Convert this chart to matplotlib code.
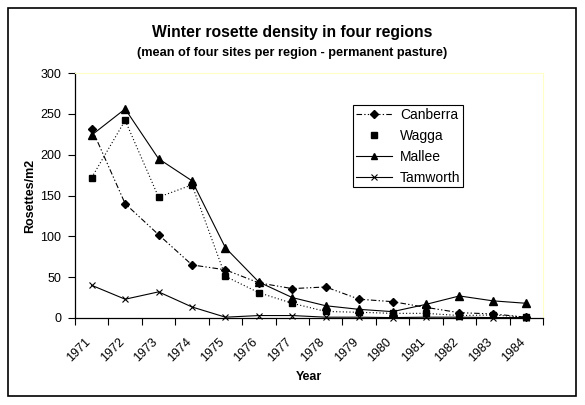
import matplotlib.pyplot as plt
import numpy as np
from matplotlib.lines import Line2D
from matplotlib.patches import Rectangle
from matplotlib.transforms import ScaledTranslation

plt.rcParams['font.family'] = ['Liberation Sans', 'DejaVu Sans']

leta = [str(y) for y in range(1971, 1985)]
canberra = [232, 140, 102, 65, 59, 43, 36, 38, 23, 20, 13, 6.5, 5, 1]
wagga = [172, 242, 148, 163, 51, 31, 18, 8, 7, 5.7, 5.7, 3, 3.7, 1]
mallee = [224, 256, 195, 168, 86, 44, 25, 15, 10.6, 7.8, 16.7, 27, 21, 18]
tamworth = [40, 23, 32, 13.5, 1, 3, 3, 1, 1, 0.5, 1, 1, 0.5, 0.5]

X = np.arange(len(leta))

fig = plt.figure(figsize=(5.85, 4.05), dpi=100)
ax = fig.add_axes([75/585, 1 - 318/405, 468/585, 245/405])

crta_pika = (0, (5, 2, 1.2, 2, 1.2, 2))
ax.plot(X, canberra, color='black', lw=0.8, ls=crta_pika, marker='D', ms=4.5, clip_on=False)
ax.plot(X, wagga, color='black', lw=0.8, ls=(0, (1, 2)), marker='s', ms=5, clip_on=False)
ax.plot(X, mallee, color='black', lw=0.8, ls='-', marker='^', ms=5.5, clip_on=False)
ax.plot(X, tamworth, color='black', lw=0.8, ls='-', marker='x', ms=4.5, mew=0.8, clip_on=False)

ax.set_xlim(-0.5, len(leta) - 0.5)
ax.set_ylim(0, 300)
ax.set_yticks(range(0, 301, 50))
ax.tick_params(axis='y', direction='out', length=5, width=0.8, pad=5, labelsize=9)

ax.set_xticks(X)
ax.set_xticklabels(leta, rotation=45, ha='right', rotation_mode='anchor', fontsize=9)
ax.tick_params(axis='x', length=0, pad=13)
premik = ScaledTranslation(-7/100, 0, fig.dpi_scale_trans)
for lbl in ax.get_xticklabels():
    lbl.set_transform(lbl.get_transform() + premik)
ax.set_xticks(np.arange(-0.5, len(leta)), minor=True)
ax.tick_params(axis='x', which='minor', direction='out', length=5, width=0.8)

for s in ['top', 'right']:
    ax.spines[s].set_color('#ffffc8')
    ax.spines[s].set_linewidth(0.8)
for s in ['left', 'bottom']:
    ax.spines[s].set_linewidth(0.9)

ax.set_xlabel('Year', fontweight='bold', fontsize=9, labelpad=5)
ax.set_ylabel('Rosettes/m2', fontweight='bold', fontsize=9, labelpad=3)

fig.text(0.5, 1 - 33/405, 'Winter rosette density in four regions',
         ha='center', va='center', fontweight='bold', fontsize=11.3)
fig.text(0.5, 1 - 53/405, '(mean of four sites per region - permanent pasture)',
         ha='center', va='center', fontweight='bold', fontsize=9.2)

rocke = [
    Line2D([], [], color='black', lw=0.8, ls=crta_pika, marker='D', ms=4),
    Line2D([], [], color='black', ls='none', marker='s', ms=4.5),
    Line2D([], [], color='black', lw=0.8, ls='-', marker='^', ms=4.5),
    Line2D([], [], color='black', lw=0.8, ls='-', marker='x', ms=4, mew=0.8),
]
leg = ax.legend(rocke, ['Canberra', 'Wagga', 'Mallee', 'Tamworth'],
                loc='upper left', bbox_to_anchor=(0.594, 0.869), borderaxespad=0,
                fontsize=10, frameon=True, fancybox=False, edgecolor='black', framealpha=1,
                handlelength=2.6, handletextpad=0.6, borderpad=0.2, labelspacing=0.5)
leg.get_frame().set_linewidth(0.8)

fig.patches.append(Rectangle((8/585, 1 - 396/405), 568/585, 388/405, transform=fig.transFigure,
                             fill=False, edgecolor='black', lw=1.2))

fig.savefig('out.png', dpi=100)
